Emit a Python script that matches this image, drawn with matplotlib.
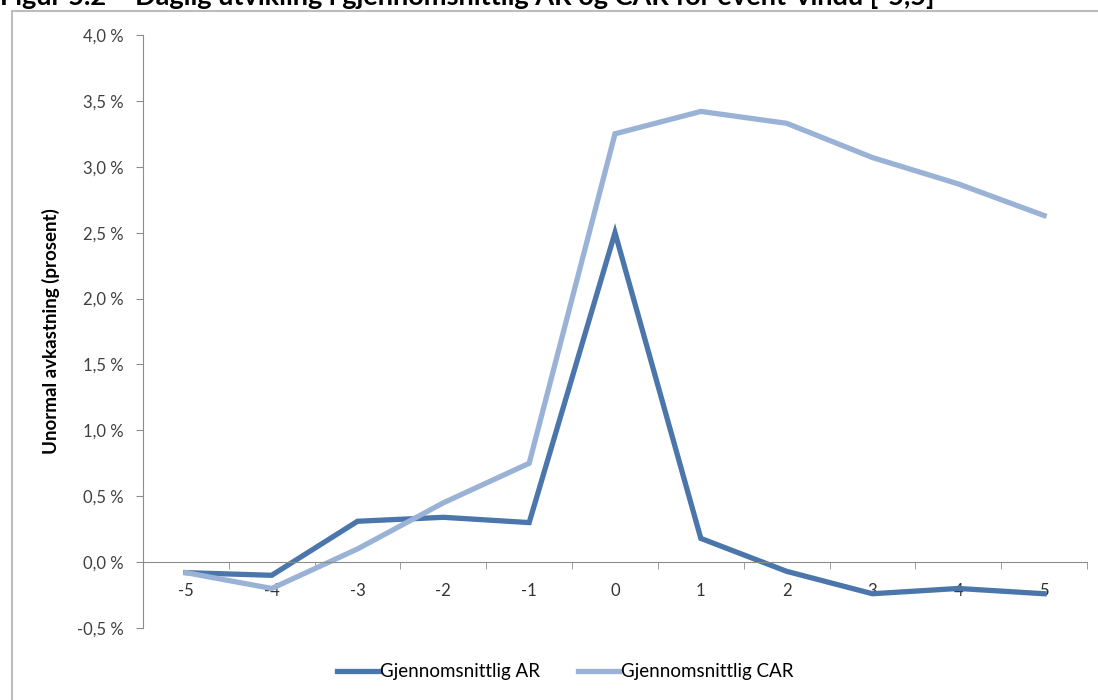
import numpy as np
import matplotlib
matplotlib.use("Agg")
import matplotlib.pyplot as plt
from matplotlib.patches import Rectangle
from matplotlib.ticker import FuncFormatter

plt.rcParams['font.family'] = ['Lato', 'DejaVu Sans']

days = [-5, -4, -3, -2, -1, 0, 1, 2, 3, 4, 5]
ar = [-0.08, -0.10, 0.31, 0.34, 0.30, 2.50, 0.18, -0.07, -0.24, -0.20, -0.24]
car = [-0.08, -0.20, 0.10, 0.45, 0.75, 3.25, 3.42, 3.33, 3.07, 2.87, 2.63]

title = "Figur 5.2 \u2013 Daglig utvikling i gjennomsnittlig AR og CAR for event-vindu [-5,5]"
ar_color = "#4a76ab"
car_color = "#9ab2d6"
grey = "#8c8c8c"

fig = plt.figure(figsize=(10.98, 7.0), dpi=100)

# chart area frame
fig.patches.append(Rectangle((12 / 1098, -0.01), 1.0, 1 - 11 / 700 + 0.01,
                             transform=fig.transFigure, fill=False,
                             edgecolor="#bdbdbd", linewidth=1.5))
# caption above the chart, cut by the top edge like in the source
fig.text(0.0, 1 - 5 / 700, title, fontsize=19.5, fontweight="bold",
         va="baseline", ha="left", color="black")

ax = fig.add_axes([143 / 1098, 72 / 700, (1087 - 143) / 1098, (628 - 35) / 700])
x = np.arange(len(days))
ax.plot(x, ar, color=ar_color, linewidth=3.8, label="Gjennomsnittlig AR",
        solid_joinstyle="miter")
ax.plot(x, car, color=car_color, linewidth=3.8, label="Gjennomsnittlig CAR",
        solid_joinstyle="miter")

ax.set_xlim(-0.5, len(days) - 0.5)
ax.set_ylim(-0.5, 4.0)
ax.set_yticks(np.arange(-0.5, 4.01, 0.5))
ax.yaxis.set_major_formatter(FuncFormatter(lambda v, p: f"{v:.1f} %".replace(".", ",")))

ax.set_xticks(x)
ax.set_xticklabels([str(d) for d in days])
ax.set_xticks(np.arange(-0.5, len(days)), minor=True)
ax.tick_params(axis="x", which="major", length=0, pad=15, labelsize=12, labelcolor="#333333")
ax.tick_params(axis="x", which="minor", length=5, direction="out", color=grey)
ax.tick_params(axis="y", length=5, direction="out", color=grey, labelsize=12,
               labelcolor="#404040", pad=9)

for s in ["top", "right"]:
    ax.spines[s].set_visible(False)
ax.spines["bottom"].set_position(("data", 0))
ax.spines["bottom"].set_color(grey)
ax.spines["left"].set_color(grey)

ax.set_ylabel("Unormal avkastning (prosent)", fontsize=13.5, fontweight="bold",
              labelpad=12)

fig.legend(loc="center", bbox_to_anchor=(0.515, 1 - 672 / 700), ncol=2, frameon=False,
           fontsize=13.5, handlelength=2.2, handletextpad=0.1, columnspacing=2.0)

fig.savefig("out.png", dpi=100)
